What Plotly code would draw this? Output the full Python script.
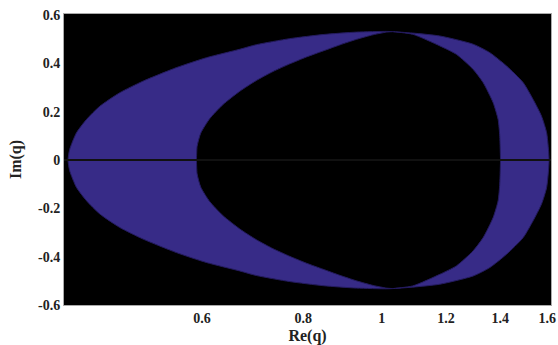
import plotly.graph_objects as go

# Upper-half boundary curves (Re(q), Im(q)); the lower half is the mirror image
left_outer_re = [0.4102, 0.4121, 0.4201, 0.4322, 0.4489, 0.4751, 0.5076, 0.5581, 0.6077, 0.668, 0.7005, 0.77, 0.8464, 0.9306, 1.0135, 1.032]
left_outer_im = [0.0, 0.044, 0.113, 0.168, 0.223, 0.279, 0.327, 0.383, 0.424, 0.459, 0.478, 0.503, 0.520, 0.530, 0.533, 0.532]

left_inner_re = [0.5908, 0.5918, 0.598, 0.6135, 0.637, 0.668, 0.7005, 0.7343, 0.77, 0.8074, 0.8464, 0.8875, 0.9306, 0.9756, 1.0135, 1.032]
left_inner_im = [0.0, 0.057, 0.112, 0.172, 0.230, 0.285, 0.330, 0.367, 0.3985, 0.427, 0.452, 0.477, 0.500, 0.519, 0.530, 0.532]

right_outer_re = [1.032, 1.092, 1.179, 1.296, 1.359, 1.425, 1.494, 1.537, 1.574, 1.597, 1.608]
right_outer_im = [0.532, 0.526, 0.514, 0.480, 0.445, 0.390, 0.321, 0.251, 0.182, 0.113, 0.0]

right_inner_re = [1.032, 1.092, 1.179, 1.236, 1.296, 1.3335, 1.372, 1.3915, 1.398, 1.401]
right_inner_im = [0.532, 0.521, 0.473, 0.438, 0.376, 0.321, 0.2375, 0.168, 0.099, 0.0]

x_tick_vals = [0.6, 0.8, 1, 1.2, 1.4, 1.6]
x_tick_text = ["0.6", "0.8", "1", "1.2", "1.4", "1.6"]
y_tick_vals = [-0.6, -0.4, -0.2, 0, 0.2, 0.4, 0.6]
y_tick_text = ["-0.6", "-0.4", "-0.2", "0", "0.2", "0.4", "0.6"]

FILL = "#372b87"
EDGE = "#241b5e"


def region(a_re, a_im, b_re, b_im):
    # a runs from the real axis to the top tip, b likewise; returns a closed outline
    xs = list(a_re) + list(reversed(b_re)) + list(b_re) + list(reversed(a_re))
    ys = list(a_im) + list(reversed(b_im)) + [-v for v in b_im] + [-v for v in reversed(a_im)]
    return xs, ys


fig = go.Figure()

lx, ly = region(left_outer_re, left_outer_im, left_inner_re, left_inner_im)
fig.add_trace(go.Scatter(x=lx, y=ly, mode="lines", fill="toself", fillcolor=FILL,
                         line=dict(color=EDGE, width=1, shape="spline", smoothing=0.6),
                         hoverinfo="skip", showlegend=False))

ro_re = list(reversed(right_outer_re)); ro_im = list(reversed(right_outer_im))
ri_re = list(reversed(right_inner_re)); ri_im = list(reversed(right_inner_im))
rx, ry = region(ro_re, ro_im, ri_re, ri_im)
fig.add_trace(go.Scatter(x=rx, y=ry, mode="lines", fill="toself", fillcolor=FILL,
                         line=dict(color=EDGE, width=1, shape="spline", smoothing=0.6),
                         hoverinfo="skip", showlegend=False))

# horizontal line along Im(q) = 0
fig.add_trace(go.Scatter(x=[0.405, 1.617], y=[0, 0], mode="lines",
                         line=dict(color="#111111", width=2), hoverinfo="skip", showlegend=False))

font_family = "Liberation Serif"
tick_font = dict(family=font_family, size=14, color="#222222", weight="bold")
title_font = dict(family=font_family, size=16, color="#222222", weight="bold")
fig.update_layout(
    width=558, height=345,
    margin=dict(l=64, r=7, t=14, b=40),
    paper_bgcolor="white", plot_bgcolor="black",
    font=dict(family=font_family, size=14, color="#222222"),
    xaxis=dict(type="log", range=[-0.392, 0.2087], tickvals=x_tick_vals, ticktext=x_tick_text,
               tickfont=tick_font, automargin=False,
               title=dict(text="Re(q)", font=title_font, standoff=5),
               showgrid=False, zeroline=False, ticks="", showline=True, linecolor="#aaaaaa", mirror=True),
    yaxis=dict(range=[-0.6, 0.605], tickvals=y_tick_vals, ticktext=y_tick_text,
               tickfont=tick_font, automargin=False,
               title=dict(text="Im(q)", font=title_font, standoff=12),
               showgrid=False, zeroline=False, ticks="", showline=True, linecolor="#aaaaaa", mirror=True),
)

fig.write_html("out.html", config={"displayModeBar": False},
               post_script="document.body.style.margin='0';document.body.style.padding='0';")
